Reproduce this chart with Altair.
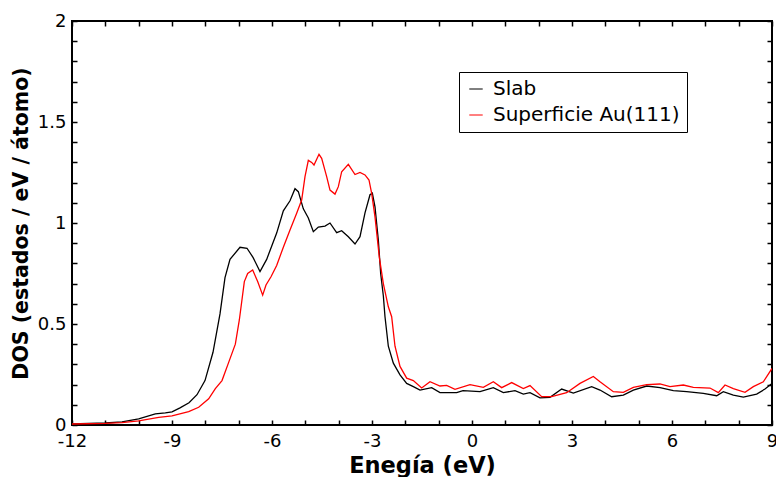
import altair as alt
import pandas as pd

# Energies (eV) and DOS values
energy_slab = [-12.0, -11.0, -10.5, -10.0, -9.5, -9.2, -9.0, -8.76, -8.49, -8.25, -8.01, -7.77,
               -7.56, -7.41, -7.26, -6.96, -6.75, -6.57, -6.36, -6.16, -5.86, -5.66, -5.46,
               -5.31, -5.21, -5.06, -4.91, -4.76, -4.61, -4.41, -4.26, -4.06, -3.91, -3.71,
               -3.51, -3.36, -3.21, -3.06, -2.99, -2.91, -2.81, -2.74, -2.66, -2.61, -2.51,
               -2.36, -2.16, -1.96, -1.76, -1.56, -1.21, -0.96, -0.46, -0.27, 0.24, 0.64,
               0.94, 1.29, 1.54, 1.74, 2.04, 2.34, 2.69, 3.04, 3.59, 3.84, 4.19, 4.54, 4.84,
               5.24, 5.64, 6.04, 6.44, 6.94, 7.34, 7.54, 7.84, 8.14, 8.54, 8.79, 9.0]
dos_slab = [0.005, 0.01, 0.015, 0.03, 0.055, 0.06, 0.065, 0.085, 0.11, 0.15, 0.22, 0.36,
            0.55, 0.73, 0.82, 0.88, 0.875, 0.83, 0.76, 0.82, 0.95, 1.06, 1.11,
            1.17, 1.155, 1.07, 1.025, 0.957, 0.98, 0.985, 1.0, 0.952, 0.962, 0.932,
            0.896, 0.932, 1.05, 1.14, 1.148, 1.08, 0.916, 0.75, 0.64, 0.536, 0.39,
            0.306, 0.248, 0.206, 0.19, 0.173, 0.185, 0.16, 0.16, 0.17, 0.165, 0.185,
            0.16, 0.17, 0.153, 0.16, 0.134, 0.137, 0.178, 0.158, 0.19, 0.173, 0.14, 0.148, 0.173,
            0.193, 0.185, 0.17, 0.165, 0.157, 0.145, 0.165, 0.148, 0.138, 0.153, 0.178, 0.206]

energy_surf = [-12.0, -11.0, -10.5, -10.0, -9.4, -9.0, -8.5, -8.2, -7.9, -7.7, -7.5, -7.3,
               -7.1, -6.98, -6.83, -6.73, -6.58, -6.43, -6.28, -6.18, -6.03, -5.86, -5.66,
               -5.46, -5.26, -5.11, -5.01, -4.91, -4.81, -4.74, -4.59, -4.51, -4.36, -4.26,
               -4.11, -4.01, -3.91, -3.71, -3.51, -3.36, -3.21, -3.09, -3.01, -2.91, -2.78,
               -2.66, -2.51, -2.41, -2.31, -2.16, -1.96, -1.76, -1.51, -1.26, -0.96, -0.76,
               -0.51, -0.06, 0.34, 0.64, 0.89, 1.19, 1.54, 1.74, 2.09, 2.39, 2.84, 3.24,
               3.64, 3.84, 4.24, 4.54, 4.84, 5.24, 5.64, 5.94, 6.34, 6.64, 7.14, 7.39, 7.59,
               7.84, 8.19, 8.44, 8.74, 9.0]
dos_surf = [0.005, 0.008, 0.012, 0.02, 0.038, 0.045, 0.066, 0.088, 0.13, 0.18, 0.22, 0.31,
            0.40, 0.52, 0.71, 0.75, 0.767, 0.71, 0.643, 0.693, 0.734, 0.79, 0.88,
            0.965, 1.048, 1.114, 1.23, 1.31, 1.30, 1.287, 1.34, 1.32, 1.23, 1.163,
            1.143, 1.18, 1.254, 1.29, 1.24, 1.25, 1.238, 1.213, 1.147, 1.03, 0.83,
            0.70, 0.585, 0.536, 0.39, 0.29, 0.232, 0.22, 0.183, 0.214, 0.193, 0.196,
            0.177, 0.2, 0.186, 0.214, 0.185, 0.21, 0.18, 0.195, 0.14, 0.14, 0.16, 0.206,
            0.24, 0.214, 0.165, 0.162, 0.186, 0.2, 0.203, 0.19, 0.198, 0.186, 0.183, 0.16, 0.198,
            0.18, 0.162, 0.19, 0.214, 0.28]

series_names = ["Slab", "Superficie Au(111)"]
series_colors = ["black", "red"]

x_ticks = [-12, -11, -10, -9, -8, -7, -6, -5, -4, -3, -2, -1, 0, 1, 2, 3, 4, 5, 6, 7, 8, 9]
y_ticks = [0, 0.1, 0.2, 0.3, 0.4, 0.5, 0.6, 0.7, 0.8, 0.9, 1.0, 1.1, 1.2, 1.3, 1.4, 1.5,
           1.6, 1.7, 1.8, 1.9, 2.0]

df = pd.concat([
    pd.DataFrame({"E": energy_slab, "DOS": dos_slab, "serie": series_names[0]}),
    pd.DataFrame({"E": energy_surf, "DOS": dos_surf, "serie": series_names[1]}),
])

FONT = "DejaVu Sans"
TICK = 5
xscale = alt.Scale(domain=[-12, 9], nice=False, zero=False)
yscale = alt.Scale(domain=[0, 2], nice=False)

main = alt.Chart(df).mark_line(strokeWidth=1.3, clip=True).encode(
    x=alt.X("E:Q", scale=xscale, title="Enegía (eV)",
            axis=alt.Axis(values=x_ticks, orient="bottom", offset=-TICK, tickSize=TICK,
                          domain=False, grid=False, tickColor="black", tickWidth=1.5,
                          labelExpr="datum.value % 3 == 0 ? '' + datum.value : ''",
                          labelFont=FONT, labelFontSize=18, labelColor="black",
                          labelPadding=TICK + 2, labelFlush=False, labelOverlap=False,
                          titleFont=FONT, titleFontSize=22.5, titleFontWeight="bold",
                          titleColor="black", titlePadding=4)),
    y=alt.Y("DOS:Q", scale=yscale, title="DOS (estados / eV / átomo)",
            axis=alt.Axis(values=y_ticks, orient="left", offset=-TICK, tickSize=TICK,
                          domain=False, grid=False, tickColor="black", tickWidth=1.5,
                          labelExpr="round(datum.value * 10) % 5 == 0 ? '' + datum.value : ''",
                          labelFont=FONT, labelFontSize=18, labelColor="black",
                          labelPadding=TICK + 1, labelFlush=False, labelOverlap=False,
                          titleFont=FONT, titleFontSize=20.5, titleFontWeight="bold",
                          titleColor="black", titlePadding=6)),
    color=alt.Color("serie:N", scale=alt.Scale(domain=series_names, range=series_colors),
                    legend=alt.Legend(title=None, orient="none", legendX=387, legendY=51,
                                      direction="vertical", symbolType="stroke",
                                      symbolStrokeWidth=1, symbolSize=180,
                                      labelFont=FONT, labelFontSize=20, labelColor="black",
                                      labelLimit=0, strokeColor="black", fillColor="white",
                                      padding=7, cornerRadius=0, rowPadding=6, labelOffset=7)),
)

frame = alt.Chart(df).mark_line(opacity=0).encode(
    x=alt.X("E:Q", scale=xscale, title=None,
            axis=alt.Axis(values=x_ticks, orient="top", offset=-TICK, tickSize=TICK,
                          domain=False, grid=False, labels=False, tickColor="black",
                          tickWidth=1.5)),
    y=alt.Y("DOS:Q", scale=yscale, title=None,
            axis=alt.Axis(values=y_ticks, orient="right", offset=-TICK, tickSize=TICK,
                          domain=False, grid=False, labels=False, tickColor="black",
                          tickWidth=1.5)),
    detail="serie:N",
)

chart = alt.layer(main, frame).resolve_scale(x="independent", y="independent").properties(
    width=700, height=404,
    autosize=alt.AutoSizeParams(type="none"),
    padding={"left": 72, "top": 21, "right": 4, "bottom": 52},
    background="white",
).configure_view(stroke="black", strokeWidth=2)

chart.save("out.html", embed_options={"renderer": "svg", "actions": False})
